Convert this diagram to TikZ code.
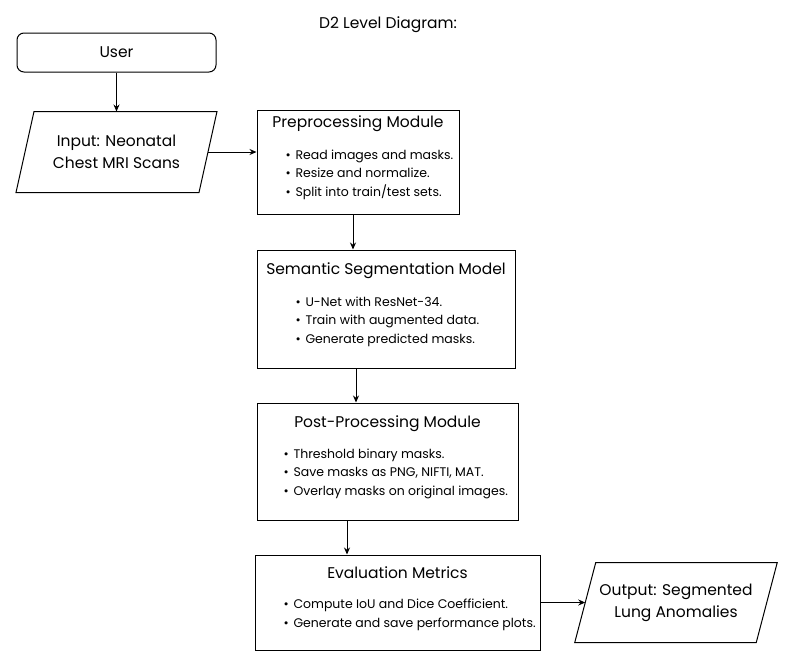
\documentclass[tikz,border=0pt]{standalone}
\usepackage{fontspec}
\setmainfont{Poppins}
\usetikzlibrary{arrows.meta}

\begin{document}
\begin{tikzpicture}[x=1pt,y=-1pt,line width=1pt,
  >={Stealth[length=7pt,width=6pt]},
  box/.style={draw,rectangle,inner sep=0pt},
  io/.style={rectangle,inner sep=0pt,align=center,font=\fontsize{15.5}{22}\selectfont},
  head/.style={font=\fontsize{15.5}{18}\selectfont},
  items/.style={anchor=north west,align=left,inner sep=0pt,font=\fontsize{12.5}{18.5}\selectfont}]
  \useasboundingbox (0,0) rectangle (795,662);
  \newcommand\itm{\makebox[10pt][l]{\textbullet}}

  \node[head] (title) at (388,25) {D2 Level Diagram:};

  % left column
  \node[box,rounded corners=7pt,minimum width=199pt,minimum height=39pt,head] (user) at (116.5,52.5) {User};
  \node[io,minimum width=182pt,minimum height=80pt] (inp) at (116.5,152) {Input: Neonatal\\Chest MRI Scans};
  \draw ([xshift=9pt]inp.north west) -- ([xshift=9pt]inp.north east) -- ([xshift=-9pt]inp.south east) -- ([xshift=-9pt]inp.south west) -- cycle;

  % boxes
  \node[box,minimum width=202pt,minimum height=104pt] (pre) at (358,162) {};
  \node[head] (pre-t) at (358,124) {Preprocessing Module};
  \node[items] (pre-l) at (285,149) {\itm Read images and masks.\\\itm Resize and normalize.\\\itm Split into train/test sets.};

  \node[box,minimum width=258pt,minimum height=118pt] (sem) at (386,309) {};
  \node[head] (sem-t) at (386,271) {Semantic Segmentation Model};
  \node[items] (sem-l) at (295,296) {\itm U-Net with ResNet-34.\\\itm Train with augmented data.\\\itm Generate predicted masks.};

  \node[box,minimum width=261pt,minimum height=117pt] (post) at (387.5,461.5) {};
  \node[head] (post-t) at (387.5,424) {Post-Processing Module};
  \node[items] (post-l) at (283,448) {\itm Threshold binary masks.\\\itm Save masks as PNG, NIFTI, MAT.\\\itm Overlay masks on original images.};

  \node[box,minimum width=285pt,minimum height=95pt] (ev) at (397.5,602.5) {};
  \node[head] (ev-t) at (397.5,573) {Evaluation Metrics};
  \node[items] (ev-l) at (283,598.5) {\itm Compute IoU and Dice Coefficient.\\\itm Generate and save performance plots.};

  \node[io,minimum width=180.5pt,minimum height=79pt] (out) at (676,602.5) {Output: Segmented\\Lung Anomalies};
  \draw ([xshift=10.5pt]out.north west) -- ([xshift=10.5pt]out.north east) -- ([xshift=-10.5pt]out.south east) -- ([xshift=-10.5pt]out.south west) -- cycle;

  % connectors
  \draw[->] (user.south) -- (inp.north);
  \draw[->] (inp.east) -- (inp.east -| pre.west);
  \draw[->] ([xshift=-5pt]pre.south) -- ([xshift=-5pt]pre.south |- sem.north);
  \draw[->] ([xshift=-30pt]sem.south) -- ([xshift=-30pt]sem.south |- post.north);
  \draw[->] ([xshift=-40.5pt]post.south) -- ([xshift=-40.5pt]post.south |- ev.north);
  \draw[->] (ev.east) -- (out.west);
\end{tikzpicture}
\end{document}
